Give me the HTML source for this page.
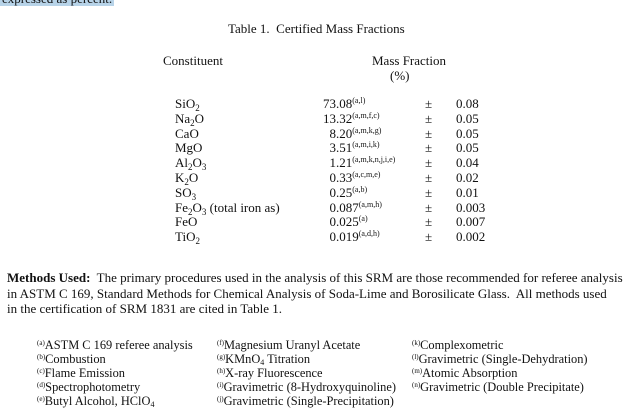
<!DOCTYPE html>
<html><head><meta charset="utf-8"><style>
body{margin:0;width:636px;height:411px;background:#fff;position:relative;overflow:hidden;font-family:"Liberation Serif",serif;color:#111;font-size:13px}
.a{position:absolute;white-space:nowrap;line-height:15px}
sup{font-size:8px;vertical-align:0;position:relative;top:-5px;line-height:0}
sub{font-size:9px;vertical-align:0;position:relative;top:3px;line-height:0}
.f{font-size:12.4px;line-height:14px}
.f sup{font-size:7px;top:-4px}
.f sub{font-size:8px;top:2px}
</style></head><body>
<div class="a" style="left:0;top:-9px;background:#b7d3e8;padding:0 2px">expressed as percent.</div>
<div class="a" style="left:228px;top:21px">Table 1.&nbsp; Certified Mass Fractions</div>
<div class="a" style="left:163px;top:53px">Constituent</div>
<div class="a" style="left:372px;top:53px">Mass Fraction</div>
<div class="a" style="left:390px;top:68px">(%)</div>

<div class="a" style="left:175px;top:97px;line-height:14.8px">SiO<sub>2</sub><br>Na<sub>2</sub>O<br>CaO<br>MgO<br>Al<sub>2</sub>O<sub>3</sub><br>K<sub>2</sub>O<br>SO<sub>3</sub><br>Fe<sub>2</sub>O<sub>3</sub> (total iron as)<br>FeO<br>TiO<sub>2</sub></div>
<div class="a" style="left:323px;top:97px;line-height:14.8px">73.08<sup>(a,l)</sup><br>13.32<sup>(a,m,f,c)</sup><br>&nbsp;&nbsp;8.20<sup>(a,m,k,g)</sup><br>&nbsp;&nbsp;3.51<sup>(a,m,i,k)</sup><br>&nbsp;&nbsp;1.21<sup>(a,m,k,n,j,i,e)</sup><br>&nbsp;&nbsp;0.33<sup>(a,c,m,e)</sup><br>&nbsp;&nbsp;0.25<sup>(a,b)</sup><br>&nbsp;&nbsp;0.087<sup>(a,m,h)</sup><br>&nbsp;&nbsp;0.025<sup>(a)</sup><br>&nbsp;&nbsp;0.019<sup>(a,d,h)</sup></div>
<div class="a" style="left:425px;top:97px;line-height:14.8px">±<br>±<br>±<br>±<br>±<br>±<br>±<br>±<br>±<br>±</div>
<div class="a" style="left:456px;top:97px;line-height:14.8px">0.08<br>0.05<br>0.05<br>0.05<br>0.04<br>0.02<br>0.01<br>0.003<br>0.007<br>0.002</div>

<div class="a" style="left:7px;top:270px;line-height:15.5px"><b>Methods Used:</b>&nbsp; The primary procedures used in the analysis of this SRM are those recommended for referee analysis<br>in ASTM C 169, Standard Methods for Chemical Analysis of Soda-Lime and Borosilicate Glass.&nbsp; All methods used<br>in the certification of SRM 1831 are cited in Table 1.</div>

<div class="a f" style="left:37px;top:338px"><sup>(a)</sup>ASTM C 169 referee analysis<br><sup>(b)</sup>Combustion<br><sup>(c)</sup>Flame Emission<br><sup>(d)</sup>Spectrophotometry<br><sup>(e)</sup>Butyl Alcohol, HClO<sub>4</sub></div>
<div class="a f" style="left:217px;top:338px"><sup>(f)</sup>Magnesium Uranyl Acetate<br><sup>(g)</sup>KMnO<sub>4</sub> Titration<br><sup>(h)</sup>X-ray Fluorescence<br><sup>(i)</sup>Gravimetric (8-Hydroxyquinoline)<br><sup>(j)</sup>Gravimetric (Single-Precipitation)</div>
<div class="a f" style="left:412px;top:338px"><sup>(k)</sup>Complexometric<br><sup>(l)</sup>Gravimetric (Single-Dehydration)<br><sup>(m)</sup>Atomic Absorption<br><sup>(n)</sup>Gravimetric (Double Precipitate)</div>
</body></html>
